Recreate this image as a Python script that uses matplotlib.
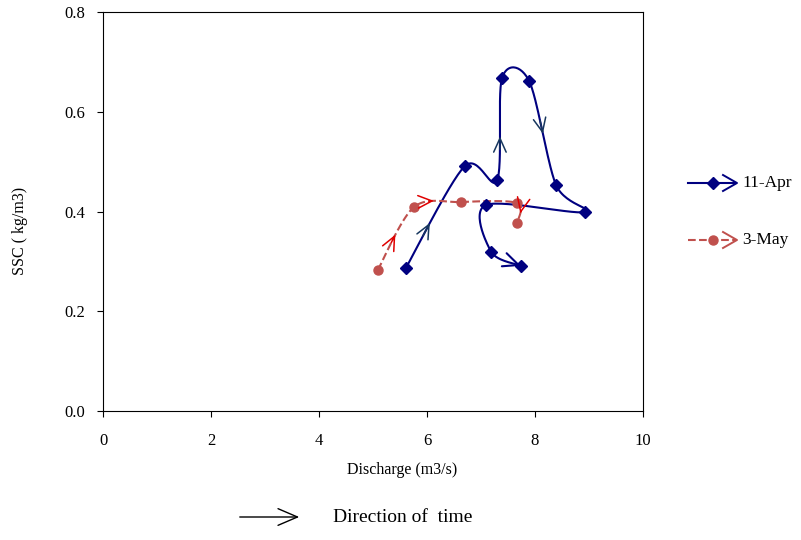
import numpy as np
import matplotlib
matplotlib.use('Agg')
import matplotlib.pyplot as plt
from matplotlib.lines import Line2D
from matplotlib.patches import FancyArrowPatch

plt.rcParams['font.family'] = ['Liberation Serif', 'DejaVu Serif']

# data
apr_q = [5.61, 6.70, 7.30, 7.39, 7.89, 8.39, 8.93, 7.09, 7.19, 7.74]
apr_ssc = [0.287, 0.491, 0.463, 0.668, 0.662, 0.453, 0.399, 0.413, 0.319, 0.291]
may_q = [5.09, 5.76, 6.63, 7.67, 7.67]
may_ssc = [0.283, 0.409, 0.419, 0.417, 0.377]

# (segment index, fraction along segment) where direction arrows sit
apr_arrows = [(0, 0.45), (2, 0.45), (4, 0.55)]
may_arrows = [(0, 0.58), (1, 0.48), (3, 0.55)]

BLUE = '#000080'
RED = '#C0504D'

fig = plt.figure(figsize=(8.01, 5.40), dpi=100)
ax = fig.add_axes([103 / 801, 1 - 411 / 540, 540 / 801, 399 / 540])
ax.set_xlim(0, 10)
ax.set_ylim(0, 0.8)
ax.set_xticks([0, 2, 4, 6, 8, 10])
ax.set_yticks([0, 0.2, 0.4, 0.6, 0.8])
ax.set_yticklabels(['0.0', '0.2', '0.4', '0.6', '0.8'])
ax.tick_params(direction='out', length=4, width=0.8, labelsize=12)
ax.tick_params(axis='x', pad=12)
ax.tick_params(axis='y', pad=9)
for s in ax.spines.values():
    s.set_linewidth(0.8)
ax.set_xlabel('Discharge (m3/s)', fontsize=11.5)
ax.xaxis.set_label_coords(0.554, -0.148)
ax.xaxis.label.set_va('center')
ax.set_ylabel('SSC ( kg/m3)', fontsize=11.5)
ax.yaxis.set_label_coords(-0.154, 0.451)
ax.yaxis.label.set_va('center')


def smooth(xs, ys, n=30):
    # Excel style smoothed line (bezier through points) in pixel space
    P = ax.transData.transform(np.column_stack([xs, ys]))
    segs = []
    for i in range(len(P) - 1):
        p0 = P[i - 1] if i > 0 else P[i]
        p1, p2 = P[i], P[i + 1]
        p3 = P[i + 2] if i + 2 < len(P) else P[i + 1]
        c1 = p1 + (p2 - p0) / 6.5
        c2 = p2 - (p3 - p1) / 6.5
        t = np.linspace(0, 1, n)[:, None]
        b = (1 - t) ** 3 * p1 + 3 * (1 - t) ** 2 * t * c1 + 3 * (1 - t) * t ** 2 * c2 + t ** 3 * p2
        segs.append(b)
    return segs


def draw_series(xs, ys, color, ls, marker, ms, arrows, acolor, end_arrow):
    segs = smooth(xs, ys)
    inv = ax.transData.inverted()
    pts = inv.transform(np.vstack(segs))
    ax.plot(pts[:, 0], pts[:, 1], color=color, ls=ls, lw=1.5, zorder=2)
    ax.plot(xs, ys, ls='none', marker=marker, ms=ms, color=color, zorder=3)
    for i, f in arrows:
        seg = segs[i]
        k = int(f * (len(seg) - 1))
        tip = inv.transform(seg[k])
        back = inv.transform(seg[k - 3])
        ax.annotate('', xy=tip, xytext=back,
                    arrowprops=dict(arrowstyle='->,head_length=1.0,head_width=0.45',
                                    color=acolor, lw=1.1, shrinkA=0, shrinkB=0), zorder=4)
    if end_arrow:
        seg = segs[-1]
        ax.annotate('', xy=inv.transform(seg[-1]), xytext=inv.transform(seg[-4]),
                    arrowprops=dict(arrowstyle='->,head_length=1.1,head_width=0.5',
                                    color=color, lw=1.5, shrinkA=0, shrinkB=0), zorder=4)


draw_series(apr_q, apr_ssc, BLUE, '-', 'D', 6, apr_arrows, '#17375E', True)
draw_series(may_q, may_ssc, RED, '--', 'o', 6.5, may_arrows, '#E00000', False)


# legend drawn by hand
def legend_entry(y, color, ls, marker, ms, label):
    yf = 1 - y / 540
    fig.add_artist(Line2D([688 / 801, 735 / 801], [yf, yf], transform=fig.transFigure,
                          color=color, ls=ls, lw=1.5))
    fig.add_artist(Line2D([713 / 801], [yf], transform=fig.transFigure, color=color,
                          marker=marker, ms=ms, ls='none'))
    fig.add_artist(Line2D([723 / 801, 737 / 801, 723 / 801],
                          [yf + 8 / 540, yf, yf - 8 / 540], transform=fig.transFigure,
                          color=color, lw=1.4))
    fig.text(742 / 801, yf, label, fontsize=12.5, va='center', ha='left')


legend_entry(183, BLUE, '-', 'D', 6, '11-Apr')
legend_entry(240, RED, '--', 'o', 6.5, '3-May')

# direction of time note
fig.add_artist(FancyArrowPatch(
    (237 / 801, 1 - 517 / 540), (302 / 801, 1 - 517 / 540), transform=fig.transFigure,
    arrowstyle='->,head_length=1.4,head_width=0.6', color='black', lw=1.0, mutation_scale=10))
fig.text(333 / 801, 1 - 517 / 540, 'Direction of  time', fontsize=14, va='center', ha='left')

fig.savefig('out.png', dpi=100)
